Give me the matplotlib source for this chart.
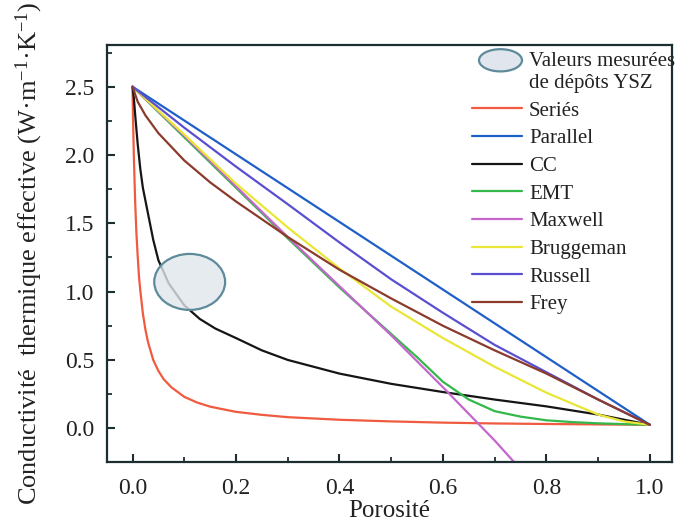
import matplotlib
matplotlib.use("Agg")
import matplotlib.pyplot as plt
from matplotlib.patches import Ellipse
from matplotlib.legend_handler import HandlerPatch
from matplotlib.ticker import MultipleLocator

plt.rcParams['font.family'] = ['Liberation Serif', 'DejaVu Serif']
plt.rcParams['mathtext.fontset'] = 'custom'
plt.rcParams['mathtext.rm'] = 'Liberation Serif'
plt.rcParams['mathtext.it'] = 'Liberation Serif:italic'

# ---- data ----
series_x = [0, 0.001, 0.0025, 0.005, 0.0075, 0.01, 0.0125, 0.015, 0.02, 0.025, 0.03,
            0.04, 0.05, 0.06, 0.075, 0.1, 0.125, 0.15, 0.2, 0.25, 0.3, 0.4, 0.5,
            0.6, 0.7, 0.8, 0.9, 1.0]
series_y = [2.5, 2.27, 2.00, 1.67, 1.43, 1.26, 1.11, 1.01, 0.84, 0.72, 0.63,
            0.50, 0.42, 0.36, 0.30, 0.23, 0.188, 0.158, 0.120, 0.098, 0.081, 0.062,
            0.050, 0.041, 0.035, 0.031, 0.028, 0.025]

parallel_x = [0, 1.0]
parallel_y = [2.5, 0.025]

cc_x = [0, 0.0025, 0.005, 0.01, 0.015, 0.02, 0.03, 0.04, 0.05, 0.07, 0.1, 0.13, 0.16,
        0.2, 0.25, 0.3, 0.4, 0.5, 0.6, 0.7, 0.8, 0.9, 1.0]
cc_y = [2.5, 2.42, 2.30, 2.08, 1.90, 1.76, 1.57, 1.38, 1.23, 1.06, 0.90, 0.80, 0.73,
        0.66, 0.57, 0.50, 0.40, 0.325, 0.265, 0.21, 0.16, 0.10, 0.025]

emt_x = [0, 0.1, 0.2, 0.3, 0.4, 0.45, 0.5, 0.55, 0.6, 0.65, 0.7, 0.75, 0.8, 0.85,
         0.9, 0.95, 1.0]
emt_y = [2.5, 2.13, 1.76, 1.39, 1.03, 0.86, 0.69, 0.52, 0.34, 0.21, 0.125, 0.085,
         0.058, 0.045, 0.036, 0.030, 0.025]

maxwell_x = [0, 0.1, 0.2, 0.3, 0.4, 0.5, 0.6, 0.7, 0.75]
maxwell_y = [2.5, 2.14, 1.77, 1.40, 1.04, 0.68, 0.30, -0.09, -0.30]

bruggeman_x = [0, 0.1, 0.2, 0.3, 0.4, 0.5, 0.6, 0.7, 0.8, 0.9, 0.95, 1.0]
bruggeman_y = [2.5, 2.15, 1.79, 1.47, 1.17, 0.89, 0.66, 0.45, 0.26, 0.10, 0.05, 0.025]

russell_x = [0, 0.1, 0.2, 0.3, 0.4, 0.5, 0.6, 0.7, 0.8, 0.9, 1.0]
russell_y = [2.5, 2.20, 1.915, 1.64, 1.36, 1.09, 0.845, 0.61, 0.41, 0.21, 0.025]

frey_x = [0, 0.01, 0.025, 0.05, 0.1, 0.15, 0.2, 0.3, 0.4, 0.5, 0.6, 0.7, 0.8, 0.9, 1.0]
frey_y = [2.5, 2.39, 2.29, 2.16, 1.96, 1.80, 1.66, 1.40, 1.16, 0.95, 0.75, 0.57,
          0.40, 0.21, 0.025]

measured_porosity_range = (0.042, 0.179)
measured_conductivity_range = (0.866, 1.276)

labels = ['Seriés', 'Parallel', 'CC', 'EMT', 'Maxwell', 'Bruggeman', 'Russell', 'Frey']
measured_label = 'Valeurs mesurées\nde dépôts YSZ'
xticks = [0.0, 0.2, 0.4, 0.6, 0.8, 1.0]
yticks = [0.0, 0.5, 1.0, 1.5, 2.0, 2.5]

# ---- styles ----
colors = ['#f05a40', '#1f5fc8', '#151515', '#33b84a', '#c466cc', '#e9e637',
          '#5a4fd0', '#8a3b2c']
spine_color = '#1d2e33'
text_color = '#222222'

fig = plt.figure(figsize=(6.75, 5.22), dpi=100)
ax = fig.add_axes([0.158, 0.1155, 0.837, 0.7985])

xs = [series_x, parallel_x, cc_x, emt_x, maxwell_x, bruggeman_x, russell_x, frey_x]
ys = [series_y, parallel_y, cc_y, emt_y, maxwell_y, bruggeman_y, russell_y, frey_y]
handles = []
for x, y, c, lab in zip(xs, ys, colors, labels):
    h, = ax.plot(x, y, color=c, lw=1.6, label=lab, solid_capstyle='round',
                 solid_joinstyle='round')
    handles.append(h)

cx = 0.5 * (measured_porosity_range[0] + measured_porosity_range[1])
cy = 0.5 * (measured_conductivity_range[0] + measured_conductivity_range[1])
ell = Ellipse((cx, cy),
              measured_porosity_range[1] - measured_porosity_range[0],
              measured_conductivity_range[1] - measured_conductivity_range[0],
              facecolor=(0.88, 0.90, 0.93, 0.8), edgecolor='#5d8b9a', lw=1.6,
              zorder=3)
ax.add_patch(ell)

ax.set_xlim(-0.050, 1.042)
ax.set_ylim(-0.245, 2.806)
ax.set_xticks(xticks)
ax.set_yticks(yticks)
ax.set_xticklabels([f'{v:.1f}' for v in xticks])
ax.set_yticklabels([f'{v:.1f}' for v in yticks])
ax.xaxis.set_minor_locator(MultipleLocator(0.1))
ax.yaxis.set_minor_locator(MultipleLocator(0.25))
ax.tick_params(which='both', direction='in', top=False, right=False,
               colors=spine_color, labelcolor=text_color)
ax.tick_params(which='major', length=6, width=1.5, labelsize=17)
ax.tick_params(axis='y', which='major', pad=9)
ax.tick_params(axis='x', which='major', pad=12)
ax.tick_params(which='minor', length=3.5, width=1.3)
for s in ax.spines.values():
    s.set_color(spine_color)
    s.set_linewidth(1.6)

ax.set_xlabel('Porosité', fontsize=18, color=text_color)
ax.set_ylabel('Conductivité  thermique effective (W·m$^{-1}$·K$^{-1}$)',
              fontsize=19, color=text_color)
ax.xaxis.set_label_coords(0.5, -0.093)
ax.yaxis.set_label_coords(-0.11, 0.5)


class HandlerEllipse(HandlerPatch):
    def create_artists(self, legend, orig_handle, xdescent, ydescent,
                       width, height, fontsize, trans):
        center = (0.57 * width - xdescent, 0.5 * height - ydescent + 8.5)
        p = Ellipse(xy=center, width=0.86 * width, height=16)
        self.update_prop(p, orig_handle, legend)
        p.set_transform(trans)
        return [p]


proxy = Ellipse((0, 0), 1, 1, facecolor='#e1e5ee', edgecolor='#5d8b9a', lw=1.6)
leg = ax.legend([proxy] + handles, [measured_label] + labels,
                handler_map={Ellipse: HandlerEllipse()},
                loc='upper left', bbox_to_anchor=(472 / 675, 1 - 52 / 522),
                bbox_transform=fig.transFigure, frameon=False,
                fontsize=15, handlelength=2.4, handletextpad=0.33,
                labelspacing=0.39, borderpad=0, borderaxespad=0)
for t in leg.get_texts():
    t.set_color(text_color)

fig.savefig('out.png', dpi=100)
